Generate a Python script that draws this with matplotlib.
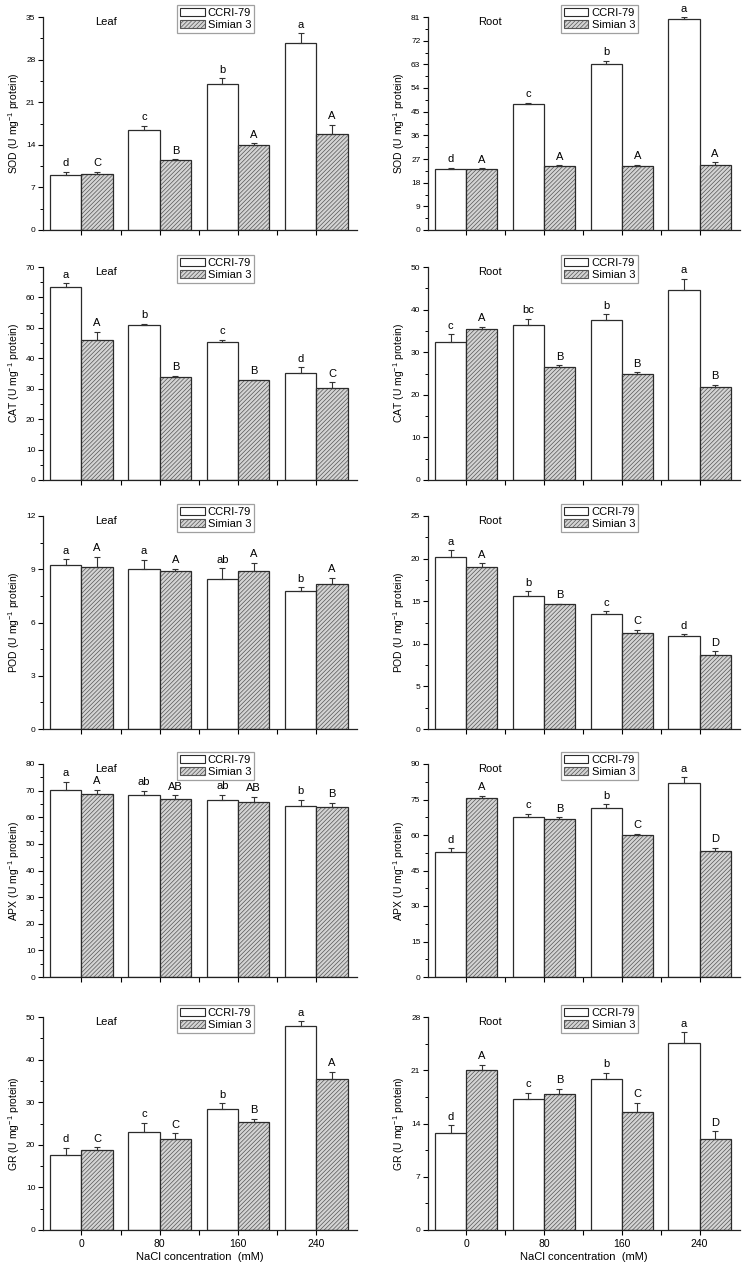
import matplotlib
matplotlib.use('Agg')
import matplotlib.pyplot as plt
from matplotlib.patches import Patch
from matplotlib.ticker import MultipleLocator, AutoMinorLocator, FixedLocator
import numpy as np

plt.rcParams['font.family'] = ['Liberation Sans', 'DejaVu Sans']
plt.rcParams['mathtext.fontset'] = 'custom'
plt.rcParams['mathtext.rm'] = 'Liberation Sans'
plt.rcParams['mathtext.default'] = 'regular'
plt.rcParams['hatch.linewidth'] = 0.5

nacl = ['0', '80', '160', '240']

# SOD
sod_leaf_c     = [9.0, 16.4, 24.0, 30.7]
sod_leaf_c_err = [0.55, 0.75, 0.9, 1.6]
sod_leaf_s     = [9.25, 11.55, 13.9, 15.8]
sod_leaf_s_err = [0.3, 0.1, 0.4, 1.5]
sod_root_c     = [23.3, 48.0, 63.3, 80.1]
sod_root_c_err = [0.3, 0.4, 1.0, 0.8]
sod_root_s     = [23.2, 24.3, 24.3, 24.9]
sod_root_s_err = [0.3, 0.4, 0.6, 0.9]

# CAT
cat_leaf_c     = [63.4, 50.8, 45.2, 35.3]
cat_leaf_c_err = [1.3, 0.6, 0.9, 1.7]
cat_leaf_s     = [46.0, 33.7, 32.9, 30.2]
cat_leaf_s_err = [2.7, 0.6, 0.1, 2.0]
cat_root_c     = [32.4, 36.3, 37.5, 44.6]
cat_root_c_err = [1.8, 1.5, 1.4, 2.7]
cat_root_s     = [35.5, 26.5, 24.8, 21.9]
cat_root_s_err = [0.5, 0.5, 0.5, 0.5]

# POD
pod_leaf_c     = [9.26, 9.03, 8.47, 7.77]
pod_leaf_c_err = [0.3, 0.5, 0.6, 0.23]
pod_leaf_s     = [9.13, 8.92, 8.88, 8.19]
pod_leaf_s_err = [0.58, 0.1, 0.5, 0.34]
pod_root_c     = [20.2, 15.6, 13.5, 10.9]
pod_root_c_err = [0.8, 0.55, 0.3, 0.25]
pod_root_s     = [19.0, 14.65, 11.3, 8.7]
pod_root_s_err = [0.45, 0.05, 0.35, 0.4]

# APX
apx_leaf_c     = [70.3, 68.3, 66.5, 64.2]
apx_leaf_c_err = [3.1, 1.7, 1.9, 2.3]
apx_leaf_s     = [68.7, 67.0, 65.7, 63.8]
apx_leaf_s_err = [1.6, 1.3, 2.0, 1.6]
apx_root_c     = [52.9, 67.4, 71.4, 82.1]
apx_root_c_err = [1.4, 1.5, 1.7, 2.4]
apx_root_s     = [75.7, 66.7, 60.1, 53.4]
apx_root_s_err = [0.9, 0.9, 0.4, 1.3]

# GR
gr_leaf_c     = [17.6, 23.0, 28.4, 47.9]
gr_leaf_c_err = [1.7, 2.2, 1.4, 1.1]
gr_leaf_s     = [18.8, 21.4, 25.3, 35.5]
gr_leaf_s_err = [0.6, 1.3, 0.8, 1.6]
gr_root_c     = [12.7, 17.2, 19.9, 24.6]
gr_root_c_err = [1.05, 0.85, 0.8, 1.4]
gr_root_s     = [21.0, 17.9, 15.55, 11.9]
gr_root_s_err = [0.75, 0.7, 1.2, 1.05]

# significance letters
sod_leaf_lab = (['d', 'c', 'b', 'a'], ['C', 'B', 'A', 'A'])
sod_root_lab = (['d', 'c', 'b', 'a'], ['A', 'A', 'A', 'A'])
cat_leaf_lab = (['a', 'b', 'c', 'd'], ['A', 'B', 'B', 'C'])
cat_root_lab = (['c', 'bc', 'b', 'a'], ['A', 'B', 'B', 'B'])
pod_leaf_lab = (['a', 'a', 'ab', 'b'], ['A', 'A', 'A', 'A'])
pod_root_lab = (['a', 'b', 'c', 'd'], ['A', 'B', 'C', 'D'])
apx_leaf_lab = (['a', 'ab', 'ab', 'b'], ['A', 'AB', 'AB', 'B'])
apx_root_lab = (['d', 'c', 'b', 'a'], ['A', 'B', 'C', 'D'])
gr_leaf_lab  = (['d', 'c', 'b', 'a'], ['C', 'C', 'B', 'A'])
gr_root_lab  = (['d', 'c', 'b', 'a'], ['A', 'B', 'C', 'D'])

panels = [
    ('SOD', 'Leaf', sod_leaf_c, sod_leaf_c_err, sod_leaf_s, sod_leaf_s_err, sod_leaf_lab, 35, 7),
    ('SOD', 'Root', sod_root_c, sod_root_c_err, sod_root_s, sod_root_s_err, sod_root_lab, 81, 9),
    ('CAT', 'Leaf', cat_leaf_c, cat_leaf_c_err, cat_leaf_s, cat_leaf_s_err, cat_leaf_lab, 70, 10),
    ('CAT', 'Root', cat_root_c, cat_root_c_err, cat_root_s, cat_root_s_err, cat_root_lab, 50, 10),
    ('POD', 'Leaf', pod_leaf_c, pod_leaf_c_err, pod_leaf_s, pod_leaf_s_err, pod_leaf_lab, 12, 3),
    ('POD', 'Root', pod_root_c, pod_root_c_err, pod_root_s, pod_root_s_err, pod_root_lab, 25, 5),
    ('APX', 'Leaf', apx_leaf_c, apx_leaf_c_err, apx_leaf_s, apx_leaf_s_err, apx_leaf_lab, 80, 10),
    ('APX', 'Root', apx_root_c, apx_root_c_err, apx_root_s, apx_root_s_err, apx_root_lab, 90, 15),
    ('GR', 'Leaf', gr_leaf_c, gr_leaf_c_err, gr_leaf_s, gr_leaf_s_err, gr_leaf_lab, 50, 10),
    ('GR', 'Root', gr_root_c, gr_root_c_err, gr_root_s, gr_root_s_err, gr_root_lab, 28, 7),
]

W, H = 748, 1268
fig = plt.figure(figsize=(W / 100, H / 100), dpi=100)

row_tops = [17, 267, 516, 764, 1017]
ax_h = 213
col_x = [(43, 314), (428, 312)]

x = np.arange(4)
bw = 0.4
hatch = '////////'
edge = '#2b2b2b'
hface = '#d4d4d4'
hcol = '#555555'

for i, (enz, tissue, c, ce, s, se, lab, ymax, ystep) in enumerate(panels):
    row, col = divmod(i, 2)
    x0, w = col_x[col]
    ax = fig.add_axes([x0 / W, 1 - (row_tops[row] + ax_h) / H, w / W, ax_h / H])

    ax.bar(x - bw / 2, c, bw, color='white', edgecolor=edge, linewidth=0.9, zorder=2)
    ax.bar(x + bw / 2, s, bw, color=hface, edgecolor=hcol, hatch=hatch,
           linewidth=0, zorder=2)
    ax.bar(x + bw / 2, s, bw, fill=False, edgecolor=edge, linewidth=0.9, zorder=3)

    ax.errorbar(x - bw / 2, c, yerr=[np.zeros(4), ce], fmt='none', ecolor='#333333',
                elinewidth=0.8, capsize=2.5, capthick=0.8, zorder=4)
    ax.errorbar(x + bw / 2, s, yerr=[np.zeros(4), se], fmt='none', ecolor='#333333',
                elinewidth=0.8, capsize=2.5, capthick=0.8, zorder=4)

    for j in range(4):
        ax.annotate(lab[0][j], (x[j] - bw / 2, c[j] + ce[j]), xytext=(0, 2.5),
                    textcoords='offset points', ha='center', va='bottom', fontsize=8)
        ax.annotate(lab[1][j], (x[j] + bw / 2, s[j] + se[j]), xytext=(0, 2.5),
                    textcoords='offset points', ha='center', va='bottom', fontsize=8)

    ax.set_xlim(-0.49, 3.52)
    ax.set_ylim(0, ymax)
    ax.yaxis.set_major_locator(MultipleLocator(ystep))
    ax.yaxis.set_minor_locator(AutoMinorLocator(2))
    ax.xaxis.set_major_locator(FixedLocator(x))
    ax.xaxis.set_minor_locator(FixedLocator([0.5, 1.5, 2.5]))
    ax.tick_params(axis='y', which='major', labelsize=6, length=3.5, width=0.8, pad=2)
    ax.tick_params(axis='y', which='minor', length=2, width=0.7)
    ax.tick_params(axis='x', which='both', length=3.5, width=0.8, labelsize=7.5, pad=3)

    if row == 4:
        ax.set_xticks(x)
        ax.set_xticklabels(nacl)
        ax.set_xlabel('NaCl concentration  (mM)', fontsize=8, labelpad=2)
    else:
        ax.set_xticklabels([])

    for side in ['top', 'right']:
        ax.spines[side].set_visible(False)
    for side in ['left', 'bottom']:
        ax.spines[side].set_linewidth(0.9)
        ax.spines[side].set_color('#222222')

    ax.set_ylabel(enz + ' (U mg$^{-1}$ protein)', fontsize=7.5, labelpad=3)
    ax.text(0.2, 0.975, tissue, transform=ax.transAxes, ha='center', va='center',
            fontsize=8)

    handles = [Patch(facecolor='white', edgecolor=edge, linewidth=0.8),
               Patch(facecolor=hface, edgecolor=hcol, hatch=hatch, linewidth=0.8)]
    leg = ax.legend(handles, ['CCRI-79', 'Simian 3'], loc='upper center',
                    bbox_to_anchor=(0.55, 1.055), fontsize=8, frameon=True,
                    fancybox=False, edgecolor='#888888', borderpad=0.25,
                    labelspacing=0.15, handlelength=2.2, handleheight=0.65,
                    handletextpad=0.3, borderaxespad=0)
    leg.get_frame().set_linewidth(0.9)

fig.savefig('out.png', dpi=100)
